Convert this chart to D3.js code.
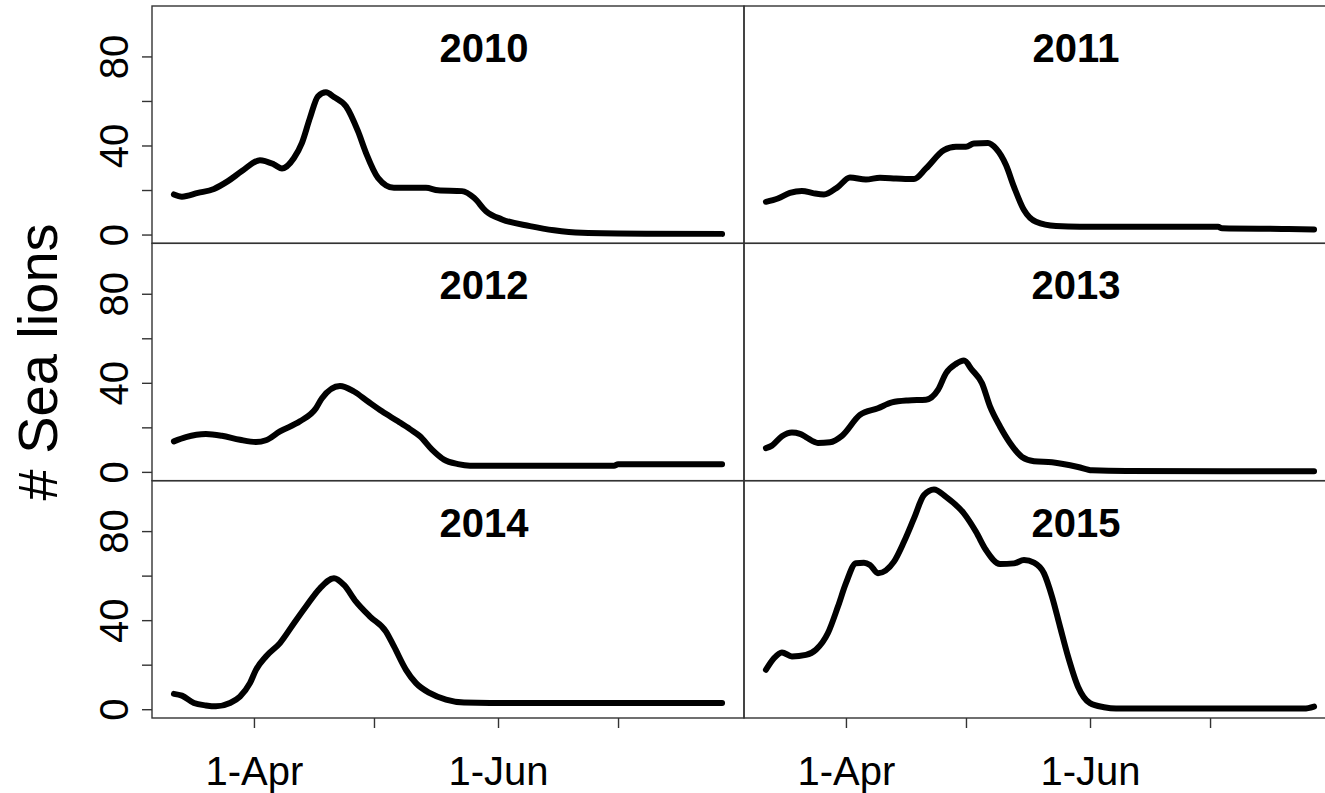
<!DOCTYPE html>
<html>
<head>
<meta charset="utf-8">
<script src="https://cdn.jsdelivr.net/npm/d3@7"></script>
<style>
  html, body { margin: 0; padding: 0; background: #fff; }
  svg { display: block; font-family: "Liberation Sans", Arial, Helvetica, sans-serif; }
</style>
</head>
<body>
<svg id="chart" width="1325" height="793"></svg>
<script>
// Smoothed daily counts of sea lions, one series per season.
// Days are counted from 1 April (negative = March).
const years = ["2010", "2011", "2012", "2013", "2014", "2015"];

const days2010 = [-20, -18, -14, -10, -6.5, -3, 1.5, 5, 7, 10, 12, 14, 16, 18, 20, 23, 26, 28, 31, 35, 43, 46, 52, 55, 58, 62, 69, 75, 82, 98, 117];
const counts2010 = [18.0, 17.0, 18.7, 20.5, 24.0, 28.5, 33.4, 31.5, 29.7, 34.4, 41.2, 52.4, 62.1, 63.9, 61.8, 57.6, 46.4, 36.7, 25.5, 21.0, 21.0, 19.9, 19.5, 16.5, 10.5, 6.8, 3.8, 1.9, 0.8, 0.4, 0.3];

const days2011 = [-20, -17, -14, -11, -8, -5.5, -2, 1, 5, 8.5, 12.5, 17, 20, 24.5, 27.5, 30, 32, 35.5, 37.5, 40, 42, 44.5, 47.5, 52.5, 58.5, 63.5, 93, 94, 109, 117];
const counts2011 = [14.7, 16.2, 18.7, 19.6, 18.5, 18.0, 21.4, 25.6, 24.7, 25.5, 25.2, 24.9, 29.7, 37.9, 39.4, 39.4, 40.9, 41.1, 38.6, 31.2, 21.4, 11.0, 5.7, 3.8, 3.5, 3.5, 3.5, 2.8, 2.5, 2.3];

const days2012 = [-20, -17, -12, -8, -3.5, 0.5, 3, 6.5, 11.5, 15.5, 17, 21.5, 25, 28.5, 32, 36, 39, 41.5, 44.5, 47.5, 51, 54, 90, 91, 117];
const counts2012 = [13.7, 15.6, 17.0, 16.2, 14.4, 13.4, 14.2, 18.2, 22.7, 28.6, 33.1, 38.6, 36.1, 31.6, 27.2, 22.7, 19.2, 16.0, 10.0, 5.5, 3.5, 2.8, 2.8, 3.4, 3.4];

const days2013 = [-20, -18.5, -16, -13.5, -11.5, -10, -7, -4, -1, 3.5, 8, 11.5, 15.5, 20, 23, 25, 27.5, 29.5, 31.5, 34, 36, 38.5, 41, 44, 47, 51.5, 58, 61.5, 70, 117];
const counts2013 = [10.7, 11.8, 16.0, 17.7, 17.1, 15.6, 13.0, 13.3, 16.2, 25.6, 28.6, 31.2, 32.1, 32.4, 36.8, 44.3, 48.5, 50.0, 45.8, 39.8, 29.4, 20.4, 13.0, 6.7, 4.8, 4.3, 2.2, 0.7, 0.4, 0.3];

const days2014 = [-20, -18, -15, -12, -9.5, -6, -3.5, -1, 0.5, 3, 6.5, 10, 13, 16.5, 20, 22.5, 25.5, 29, 33, 35, 38, 40.5, 44, 48, 52.5, 59, 117];
const counts2014 = [6.9, 6.1, 2.8, 1.7, 1.3, 2.8, 5.7, 11.7, 17.7, 23.7, 29.7, 38.6, 46.1, 54.3, 58.8, 55.8, 48.3, 41.6, 34.9, 28.2, 17.7, 11.7, 7.2, 4.3, 3.0, 2.8, 2.8];

const days2015 = [-20, -18, -16, -13.5, -10, -7.5, -4.5, -2, 0, 2.5, 4.5, 6, 8, 12, 14.5, 17, 19.5, 22, 25, 29.5, 32.5, 35, 38.5, 42, 44.5, 47, 49.5, 51.5, 53.5, 55.5, 58, 61, 64.5, 67.5, 114.5, 117];
const counts2015 = [17.7, 22.9, 25.5, 23.7, 24.4, 26.7, 34.2, 46.1, 56.6, 65.6, 65.8, 64.8, 61.1, 66.3, 75.2, 85.7, 96.2, 98.7, 95.4, 87.9, 79.7, 71.5, 65.2, 65.5, 67.0, 65.8, 61.0, 50.6, 37.1, 23.7, 10.1, 2.7, 0.9, 0.3, 0.3, 1.2];

// Month starts (days from 1 April) and their labels
const monthTicks = [0, 30, 61, 91];
const monthLabels = ["1-Apr", "", "1-Jun", ""];
const countTicks = [0, 20, 40, 60, 80];
const countLabels = ["0", "", "40", "", "80"];

const seriesDays = [days2010, days2011, days2012, days2013, days2014, days2015];
const seriesCounts = [counts2010, counts2011, counts2012, counts2013, counts2014, counts2015];

// ---- layout ----
const W = 1325, H = 793;
const plotLeft = 152, plotTop = 6, plotBottom = 718;
const panelW = 592;
const nRows = 3, nCols = 2;
const panelH = (plotBottom - plotTop) / nRows;
const ink = "#333";

const svg = d3.select("#chart");
svg.append("rect").attr("width", W).attr("height", H).attr("fill", "#fff");

// shared scales, padded 4% on each side
const allDays = seriesDays.flat();
const allCounts = seriesCounts.flat();
const dx = d3.extent(allDays);
const padX = (dx[1] - dx[0]) * 0.04;
const yMax = d3.max(allCounts);
const padY = yMax * 0.04;

const x = d3.scaleLinear().domain([dx[0] - padX, dx[1] + padX]).range([0, panelW]);
const y = d3.scaleLinear().domain([-padY, yMax + padY]).range([panelH, 0]);

const line = d3.line()
  .x(d => x(d[0]))
  .y(d => y(d[1]))
  .curve(d3.curveMonotoneX);

years.forEach((yr, i) => {
  const row = Math.floor(i / nCols), col = i % nCols;
  const g = svg.append("g")
    .attr("transform", `translate(${plotLeft + col * panelW},${plotTop + row * panelH})`);

  const pts = seriesDays[i].map((d, k) => [d, seriesCounts[i][k]]);
  g.append("path")
    .datum(pts)
    .attr("d", line)
    .attr("fill", "none")
    .attr("stroke", "#000")
    .attr("stroke-width", 6)
    .attr("stroke-linejoin", "round")
    .attr("stroke-linecap", "round");

  g.append("rect")
    .attr("width", panelW).attr("height", panelH)
    .attr("fill", "none").attr("stroke", ink).attr("stroke-width", 1.4);

  g.append("text")
    .attr("x", 332).attr("y", 56)
    .attr("text-anchor", "middle")
    .attr("font-size", 40).attr("font-weight", "bold")
    .attr("fill", "#000")
    .text(yr);

  // count axis on the left column
  if (col === 0) {
    const ya = g.append("g").call(
      d3.axisLeft(y).tickValues(countTicks).tickSize(10)
        .tickFormat((d, k) => countLabels[k])
    );
    ya.select(".domain").remove();
    ya.selectAll(".tick line").attr("stroke", ink).attr("stroke-width", 1.4);
    ya.selectAll(".tick text")
      .attr("transform", "rotate(-90)")
      .attr("x", 0).attr("y", -24).attr("dy", null)
      .attr("text-anchor", "middle")
      .attr("font-size", 40).attr("font-family", null)
      .attr("fill", "#000");
  }

  // date axis under the bottom row
  if (row === nRows - 1) {
    const xa = g.append("g").attr("transform", `translate(0,${panelH})`).call(
      d3.axisBottom(x).tickValues(monthTicks).tickSize(10)
        .tickFormat((d, k) => monthLabels[k])
    );
    xa.select(".domain").remove();
    xa.selectAll(".tick line").attr("stroke", ink).attr("stroke-width", 1.4);
    xa.selectAll(".tick text")
      .attr("y", 67).attr("dy", null)
      .attr("font-size", 40).attr("font-family", null)
      .attr("fill", "#000");
  }
});

// shared y-axis title
svg.append("text")
  .attr("transform", `translate(57,${(plotTop + plotBottom) / 2}) rotate(-90)`)
  .attr("text-anchor", "middle")
  .attr("font-size", 56)
  .attr("fill", "#000")
  .text("# Sea lions");
</script>
</body>
</html>
